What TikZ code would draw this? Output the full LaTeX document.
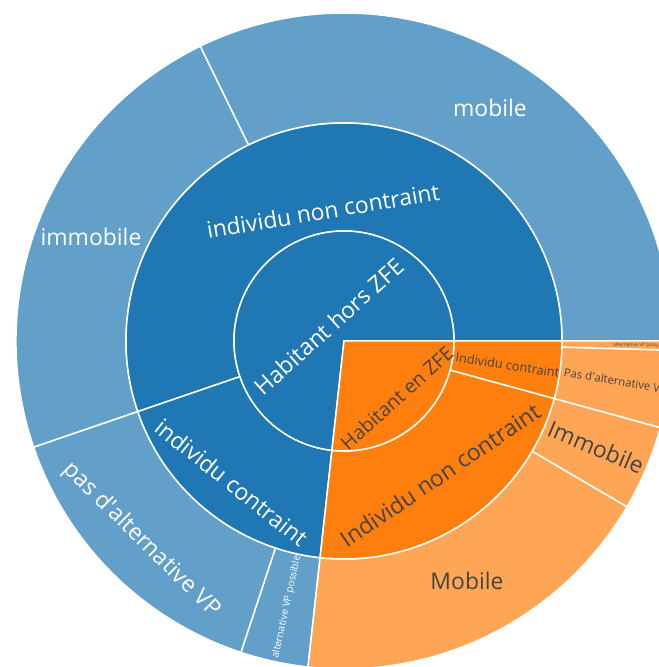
\documentclass[tikz,border=0pt]{standalone}
\usepackage{fontspec}
\setmainfont{Open Sans}
\definecolor{zblue}{RGB}{31,119,180}
\definecolor{zbluelt}{RGB}{98,160,202}
\definecolor{zorange}{RGB}{255,127,14}
\definecolor{zorangelt}{RGB}{255,165,86}
\definecolor{zgray}{RGB}{68,68,68}
\begin{document}
\begin{tikzpicture}[x=1bp,y=1bp]
    \tikzstyle{part}=[draw=white, line width=1.5bp]
    \tikzstyle{lab}=[inner sep=0pt, text=white, font=\fontsize{23}{23}\selectfont]
    \tikzstyle{labo}=[lab, text=zgray]
    \useasboundingbox (-344,-326) rectangle (315,341);
    \clip (-344,-326) rectangle (315,341);
    % outer ring
    \foreach \a/\b/\c in {0/116/zbluelt, 116/198.9/zbluelt, 198.9/251.7/zbluelt, 251.7/263.7/zbluelt,
                          263.7/329.65/zorangelt, 329.65/344.7/zorangelt, 344.7/358.4/zorangelt, 358.4/360/zorangelt}
      \filldraw[part, fill=\c] (\a:218) -- (\a:328) arc[start angle=\a, end angle=\b, radius=328]
        -- (\b:218) arc[start angle=\b, end angle=\a, radius=218] -- cycle;
    % middle ring
    \foreach \a/\b/\c in {0/198.9/zblue, 198.9/263.7/zblue, 263.7/344.7/zorange, 344.7/360/zorange}
      \filldraw[part, fill=\c] (\a:110) -- (\a:218) arc[start angle=\a, end angle=\b, radius=218]
        -- (\b:110) arc[start angle=\b, end angle=\a, radius=110] -- cycle;
    % centre
    \filldraw[part, fill=zblue] (0,0) -- (0:110) arc[start angle=0, end angle=263.7, radius=110] -- cycle;
    \filldraw[part, fill=zorange] (0,0) -- (263.7:110) arc[start angle=263.7, end angle=360, radius=110] -- cycle;
    % labels
    \node[lab, rotate=41.85] (hors) at (-15,14.5) {Habitant hors ZFE};
    \node[labo, rotate=42, font=\fontsize{19.5}{19.5}\selectfont] (enzfe) at (52.7,-57) {Habitant en ZFE};
    \node[lab, rotate=9.45] (nonc) at (-21,130) {individu non contraint};
    \node[lab, rotate=-38.7] (contr) at (-112.3,-141.5) {individu contraint};
    \node[labo, rotate=34.2] (nonco) at (96,-134) {Individu non contraint};
    \node[labo, rotate=-8.5, font=\fontsize{12.8}{12.8}\selectfont] (contro) at (163.5,-24) {Individu contraint};
    \node[lab] (mob) at (146,233) {mobile};
    \node[lab] (immob) at (-253,104) {immobile};
    \node[lab, rotate=-44.7] (pasalt) at (-202.5,-199) {pas d\textquotesingle alternative VP};
    \node[lab, rotate=77.7, font=\fontsize{10}{10}\selectfont] (altposs) at (-57.3,-266) {alternative VP possible};
    \node[labo] (mobo) at (123,-240) {Mobile};
    \node[labo, rotate=-22.8] (immobo) at (252,-106) {Immobile};
    \node[labo, rotate=-9.5, anchor=west, font=\fontsize{11.4}{11.4}\selectfont] (pasalto) at (220,-31) {Pas d\textquotesingle alternative VP};
    \node[labo, rotate=-1, anchor=west, font=\fontsize{5}{5}\selectfont] (altposso) at (269,-4) {alternative VP possible};
\end{tikzpicture}
\end{document}
